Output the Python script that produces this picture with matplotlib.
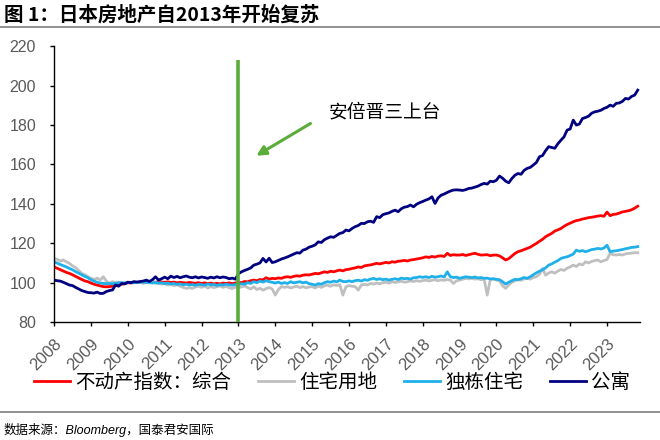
import matplotlib
matplotlib.use('Agg')
import matplotlib.pyplot as plt
from matplotlib.lines import Line2D
import numpy as np

plt.rcParams['font.family'] = ['Liberation Sans', 'Noto Sans CJK SC', 'DejaVu Sans']

# monthly data, Jan 2008 - Nov 2023
apartment = [
    101.3, 101.0, 100.8, 100.2, 99.5, 98.8, 98.5, 97.6, 96.8, 96.0, 95.5, 95.0,
    94.9, 94.7, 95.2, 94.5, 94.6, 95.5, 96.0, 96.3, 98.8, 98.2, 99.6, 99.4,
    100.2, 100.0, 100.5, 100.3, 100.6, 100.8, 101.3, 100.6, 101.5, 103.0, 101.3, 102.0,
    102.8, 102.0, 103.3, 102.6, 103.2, 102.5, 103.0, 103.4, 102.8, 102.5, 103.0, 102.4,
    102.9, 102.6, 102.2, 102.8, 102.4, 103.0, 102.5, 102.9, 102.6, 102.0, 102.3, 101.8,
    104.5, 105.5, 106.2, 106.8, 107.5, 108.9, 109.4, 110.0, 112.3, 110.5, 112.4, 110.2,
    110.6, 111.3, 112.0, 112.5, 113.1, 113.8, 114.5, 115.2, 115.0, 116.5, 117.0, 118.0,
    118.5, 119.2, 120.7, 120.4, 121.8, 122.6, 123.3, 123.0, 124.0, 125.0, 125.4, 126.7,
    126.3, 127.5, 128.4, 129.0, 130.1, 130.0, 130.9, 131.2, 130.6, 133.5, 133.0, 134.5,
    135.0, 135.4, 136.2, 136.8, 136.0, 137.5, 138.3, 138.6, 139.4, 138.5, 139.8, 140.6,
    141.2, 141.9, 142.5, 143.6, 140.2, 143.0, 144.4, 145.0, 145.8, 146.5, 147.0, 147.1,
    147.0, 146.8, 147.2, 147.8, 148.0, 148.5, 149.0, 149.8, 150.4, 150.0, 151.5, 151.2,
    152.0, 154.1, 153.0, 151.5, 150.7, 152.8, 154.5, 155.4, 155.0, 157.0, 158.0, 158.5,
    159.7, 161.0, 163.9, 164.5, 167.0, 169.0, 168.6, 168.2, 170.5, 172.3, 174.0, 177.4,
    178.0, 182.5, 180.0, 180.5, 183.3, 183.8, 184.5, 186.0, 186.7, 187.0, 187.5, 188.4,
    189.0, 190.1, 189.5, 191.0, 191.2, 192.0, 193.5, 193.2, 194.5, 195.2, 197.7,
]

composite = [
    108.0, 107.3, 106.6, 105.9, 105.2, 104.7, 104.0, 103.2, 102.4, 101.6, 100.9, 100.5,
    99.8, 99.2, 98.8, 98.4, 98.0, 97.9, 98.0, 98.2, 98.5, 98.8, 99.2, 99.5,
    100.0, 99.8, 100.1, 100.0, 100.2, 100.0, 100.3, 100.1, 100.4, 100.2, 100.5, 100.3,
    100.2, 100.4, 100.1, 100.3, 99.9, 100.2, 100.0, 99.8, 100.1, 99.9, 99.7, 100.0,
    99.6, 99.9, 99.5, 99.8, 99.4, 99.7, 99.3, 99.8, 99.6, 99.9, 99.5, 99.8,
    100.2, 100.0, 100.6, 100.4, 101.0, 101.3, 101.0, 101.6, 101.4, 102.5, 101.8, 102.2,
    102.0, 102.4, 102.2, 102.8, 103.0, 102.7, 103.2, 103.5, 103.3, 103.8, 104.0, 103.9,
    104.3, 104.7, 104.5, 105.0, 105.5, 105.2, 105.8, 105.5, 106.0, 106.4, 106.0, 106.6,
    106.8, 107.2, 107.5, 108.0, 107.7, 108.5, 108.8, 109.0, 109.4, 109.8, 109.5, 109.9,
    110.3, 110.0, 110.6, 110.4, 110.9, 111.0, 111.3, 111.0, 111.5, 111.7, 112.0, 112.3,
    112.6, 113.1, 112.8, 113.3, 113.0, 113.5, 113.6, 113.3, 114.9, 113.8, 114.2, 114.0,
    114.0, 114.3, 113.8, 114.2, 114.6, 114.9, 114.4, 114.0, 114.1, 114.2, 113.7, 114.0,
    114.0, 113.6, 112.6, 111.5, 112.2, 113.5, 114.8, 115.7, 116.2, 116.8, 117.4, 118.0,
    119.0, 119.9, 121.0, 122.0, 123.3, 124.2, 125.0, 126.2, 126.8, 127.5, 128.6, 129.5,
    130.2, 130.9, 131.5, 131.8, 132.3, 132.6, 133.0, 133.2, 133.5, 133.8, 134.0, 133.7,
    135.8, 134.0, 134.6, 134.8, 135.3, 135.9, 136.2, 136.5, 137.0, 137.8, 138.8,
]

detached = [
    110.6, 109.9, 109.2, 108.6, 108.0, 107.2, 106.5, 105.6, 104.8, 104.0, 103.2, 102.5,
    101.5, 100.8, 100.2, 99.8, 99.6, 99.5, 99.6, 99.4, 99.7, 99.9, 100.0, 99.8,
    100.0, 100.2, 99.9, 100.3, 100.1, 100.4, 100.0, 100.2, 99.8, 100.1, 99.7, 99.9,
    99.5, 99.8, 99.3, 99.6, 99.1, 99.4, 98.9, 99.2, 98.8, 99.0, 98.7, 99.1,
    99.0, 98.7, 99.3, 98.9, 99.1, 98.6, 99.0, 98.8, 99.2, 98.9, 98.7, 99.1,
    99.0, 99.5, 99.2, 100.0, 99.6, 100.5, 100.0, 100.8, 100.3, 101.0, 100.5, 100.2,
    99.8, 100.3, 99.6, 100.0, 99.6, 100.5, 99.9, 100.2, 100.5, 99.9, 100.3, 99.5,
    99.2, 98.8, 99.5, 99.2, 100.0, 100.5, 100.2, 100.8, 100.4, 101.3, 100.6, 100.5,
    100.9, 100.5, 101.0, 101.3, 100.8, 101.5, 101.2, 101.8, 102.2, 101.6, 102.0, 101.5,
    101.8, 101.3, 101.7, 102.0, 101.6, 102.3, 102.0, 102.2, 101.8, 102.5, 102.6, 103.0,
    102.7, 103.0, 102.6, 103.2, 102.8, 103.0, 103.4, 102.9, 105.5, 103.0, 102.6, 102.8,
    102.2, 102.6, 103.0, 102.8, 102.5, 102.9, 102.4, 102.6, 102.2, 102.3, 101.9, 102.0,
    101.7, 101.5, 100.5, 99.3, 100.2, 101.0, 101.7, 101.5, 102.0, 102.6, 102.2, 103.0,
    104.0, 105.0, 105.8, 106.6, 107.5, 108.9, 109.5, 110.4, 111.2, 112.3, 112.8, 113.1,
    113.8, 114.5, 116.5, 115.9, 116.3, 115.7, 116.2, 116.8, 117.0, 117.4, 117.1, 117.6,
    119.0, 115.7, 116.0, 116.2, 116.5, 116.8, 117.2, 117.5, 117.9, 118.0, 118.3,
]

land = [
    112.3, 111.8, 111.0, 111.5, 110.6, 109.8, 108.5, 107.6, 106.2, 104.7, 104.0, 103.0,
    102.2, 101.6, 102.3, 101.3, 103.0, 100.8, 99.6, 100.5, 99.8, 100.3, 99.6, 99.9,
    100.4, 99.8, 100.6, 100.0, 100.3, 99.6, 100.2, 99.8, 100.5, 99.7, 99.9, 99.3,
    99.5, 98.8, 99.2, 98.5, 98.9, 98.2, 97.6, 97.1, 97.4, 97.1, 97.8, 98.2,
    97.6, 98.4, 97.3, 98.0, 97.5, 97.9, 98.3, 97.6, 98.1, 97.4, 97.0, 97.8,
    97.4, 97.9, 98.3, 97.5, 96.8, 97.9, 96.5, 97.2, 96.2, 97.0, 97.5, 96.8,
    93.7, 96.5, 98.0, 97.6, 98.0, 97.3, 97.8, 98.2, 97.5, 98.0, 97.4, 97.8,
    98.0, 97.3, 98.3, 97.6, 98.4, 98.8, 98.2, 98.9, 98.6, 99.0, 93.7, 97.9,
    98.5, 98.2, 98.0, 96.2, 98.8, 99.2, 98.8, 99.6, 99.3, 99.8, 99.4, 100.0,
    100.2, 99.8, 100.5, 100.1, 100.4, 100.8, 100.2, 100.5, 100.9, 100.6, 101.0, 100.7,
    101.0, 101.3, 100.9, 101.2, 101.5, 101.0, 101.4, 101.2, 101.6, 101.3, 99.6, 101.0,
    101.3, 101.8, 102.2, 101.9, 102.3, 101.8, 102.0, 101.5, 101.7, 93.7, 101.6, 101.8,
    101.3, 100.9, 98.5, 97.1, 98.8, 100.2, 100.9, 101.5, 101.2, 101.9, 102.2, 101.8,
    102.6, 103.0, 104.2, 107.2, 103.8, 104.9, 105.5, 104.8, 105.9, 106.7, 106.2, 107.3,
    108.0, 108.9, 108.2, 109.5, 109.0, 110.6, 110.0, 110.8, 111.2, 111.5, 110.6, 111.2,
    111.8, 114.9, 114.2, 114.0, 114.3, 114.0, 114.6, 114.8, 115.0, 115.2, 115.2,
]

series_names = ['不动产指数：综合', '住宅用地', '独栋住宅', '公寓']
series_colors = ['#ff0000', '#bfbfbf', '#1fb0ea', '#000080']
year_ticks = list(range(2008, 2024))

t = 2008 + np.arange(len(apartment)) / 12.0

fig = plt.figure(figsize=(6.6, 4.4), dpi=100)
ax = fig.add_axes([0.082, 0.268, 0.888, 0.627])

# grey lines first, apartment on top
for vals, name, col in zip([composite, land, detached, apartment], series_names, series_colors):
    ax.plot(t, vals, color=col, lw=2.0, label=name)

# Abe takes office
ax.plot([2013, 2013], [80, 213], color='#5aad3a', lw=2.6, solid_capstyle='butt', zorder=5)
ax.annotate('', xy=(2013.42, 163.7), xytext=(2015.02, 181.5),
            arrowprops=dict(arrowstyle='-|>', color='#5aad3a', lw=2.2, mutation_scale=14))
ax.text(2015.45, 186.5, '安倍晋三上台', fontsize=13.5, va='center', ha='left',
        family=['Noto Sans CJK SC'])

ax.set_xlim(2008, 2023.9)
ax.set_ylim(80, 220)
ax.set_yticks(range(80, 221, 20))
ax.set_xticks(year_ticks)
ax.set_xticklabels([str(y) for y in year_ticks], rotation=45, ha='right', va='top',
                   rotation_mode='anchor')
ax.tick_params(axis='both', colors='black', labelcolor='#595959',
               direction='out', length=3, width=1)
ax.tick_params(axis='x', labelsize=12, pad=7)
ax.tick_params(axis='y', labelsize=11.5, pad=10)
for s in ['top', 'right']:
    ax.spines[s].set_visible(False)
for s in ['left', 'bottom']:
    ax.spines[s].set_linewidth(1.0)
    ax.spines[s].set_color('black')

leg = fig.legend(loc='center left', bbox_to_anchor=(0.052, 0.13), ncol=4, frameon=False,
                 prop={'family': ['Noto Sans CJK SC'], 'size': 14},
                 handlelength=1.85, columnspacing=1.4, handletextpad=0.25,
                 borderaxespad=0, borderpad=0)

# header and footer
fig.text(0.006, 0.967, '图 1：日本房地产自2013年开始复苏', fontsize=14, fontweight='bold',
         va='center', ha='left', family=['Noto Sans CJK SC'])
fig.add_artist(Line2D([0, 1], [0.938, 0.938], color='#7f7f7f', lw=1.2))
fig.add_artist(Line2D([0, 1], [0.063, 0.063], color='#7f7f7f', lw=1.2))
fig.text(0.006, 0.022, '数据来源：Bloomberg，国泰君安国际', fontsize=9, style='italic',
         va='center', ha='left', family=['Liberation Sans', 'Noto Sans CJK SC'])

fig.savefig('out.png', dpi=100)
